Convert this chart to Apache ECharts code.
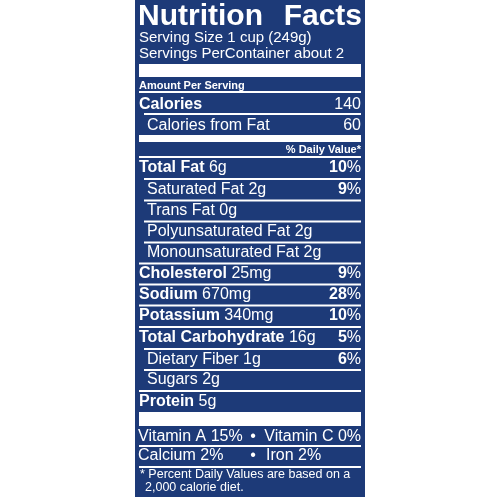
<!DOCTYPE html>
<html><head><meta charset="utf-8">
<script src="https://cdn.jsdelivr.net/npm/echarts@6/dist/echarts.min.js"></script>
<style>html,body{margin:0;padding:0;background:#fff}#c{width:500px;height:500px}</style>
</head><body><div id="c"></div>
<script>
const title = ["Nutrition", "Facts"];
const servingLines = ["Serving Size 1 cup (249g)", "Servings PerContainer about 2"];
const calories = 140;
const caloriesFromFat = 60;
const nutrientNames = ["Total Fat", "Saturated Fat", "Trans Fat", "Polyunsaturated Fat", "Monounsaturated Fat", "Cholesterol", "Sodium", "Potassium", "Total Carbohydrate", "Dietary Fiber", "Sugars", "Protein"];
const nutrientAmounts = ["6g", "2g", "0g", "2g", "2g", "25mg", "670mg", "340mg", "16g", "1g", "2g", "5g"];
const dailyValues = ["10%", "9%", "", "", "", "9%", "28%", "10%", "5%", "6%", "", ""];
const isSubItem = [false, true, true, true, true, false, false, false, false, true, true, false];
const vitamins = [["Vitamin A 15%", "Vitamin C 0%"], ["Calcium 2%", "Iron 2%"]];
const footnote = ["* Percent Daily Values are based on a", "2,000 calorie diet."];

const BLUE = '#1d3a78', W = '#ffffff', F = 'Liberation Sans';
const L = 139, R = 361, X0 = 135, X1 = 365;
const g = [];
g.push({type:'rect', shape:{x:X0, y:0, width:X1-X0, height:497}, style:{fill:BLUE}});
const txt = (x, y, text, size, weight, align, extra) => g.push({type:'text', x, y, style:Object.assign({text, fill:W, font:`${weight} ${size}px "${F}"`, align:align||'left', verticalAlign:'middle'}, extra||{})});
const line = (y, x0, h) => g.push({type:'rect', shape:{x:x0, y:y-(h||2)/2, width:R-x0, height:h||2}, style:{fill:W}});
const rich = (x, y, bold, reg, size) => g.push({type:'text', x, y, style:{text:(bold?`{b|${bold}}`:'')+(reg?`{r|${reg}}`:''), fill:W, align:'left', verticalAlign:'middle',
  rich:{b:{fontFamily:F, fontWeight:'bold', fontSize:size, fill:W}, r:{fontFamily:F, fontWeight:'normal', fontSize:size, fill:W}}}});

txt(L-1, 17, title[0], 30, 900);
txt(R+1, 17, title[1], 30, 900, 'right');
txt(L, 38, servingLines[0], 15, 'normal');
txt(L, 54, servingLines[1], 15, 'normal');
g.push({type:'rect', shape:{x:L, y:64, width:R-L, height:13}, style:{fill:W}});
txt(L, 86, 'Amount Per Serving', 11, 'bold');
line(92, L);
rich(L, 105, 'Calories', '', 16);
txt(R, 105, String(calories), 16, 'normal', 'right');
line(114, 144);
txt(147, 126, 'Calories from Fat', 16, 'normal');
txt(R, 126, String(caloriesFromFat), 16, 'normal', 'right');
g.push({type:'rect', shape:{x:L, y:135, width:R-L, height:7}, style:{fill:W}});
txt(R, 150, '% Daily Value*', 11, 'bold', 'right');
line(157, L);

const rowY = [168, 190, 211, 232, 253, 274, 295, 316, 338, 360, 380, 402];
nutrientNames.forEach((n, i) => {
  const y = rowY[i];
  if (i > 0) line((rowY[i-1] + y) / 2, isSubItem[i] ? 144 : L);
  if (isSubItem[i]) txt(147, y, n + ' ' + nutrientAmounts[i], 16, 'normal');
  else rich(L, y, n, ' ' + nutrientAmounts[i], 16);
  if (dailyValues[i]) {
    const num = dailyValues[i].replace('%', '');
    g.push({type:'text', x:R, y, style:{text:`{b|${num}}{r|%}`, fill:W, align:'right', verticalAlign:'middle',
      rich:{b:{fontFamily:F, fontWeight:'bold', fontSize:16, fill:W}, r:{fontFamily:F, fontSize:16, fill:W}}}});
  }
});
g.push({type:'rect', shape:{x:L, y:412, width:R-L, height:14}, style:{fill:W}});
txt(L-1, 437, vitamins[0][0], 16, 'normal');
txt(253, 437, '•', 16, 'normal', 'center');
txt(R, 437, vitamins[0][1], 16, 'normal', 'right');
line(446, L);
txt(L-1, 456, vitamins[1][0], 16, 'normal');
txt(253, 456, '•', 16, 'normal', 'center');
txt(266, 456, vitamins[1][1], 16, 'normal');
line(467, L);
txt(L+1, 475, footnote[0], 12.5, 'normal');
txt(L+6, 488, footnote[1], 12.5, 'normal');

const chart = echarts.init(document.getElementById('c'));
chart.setOption({backgroundColor:'#fff', graphic:{elements:g}});
</script></body></html>
